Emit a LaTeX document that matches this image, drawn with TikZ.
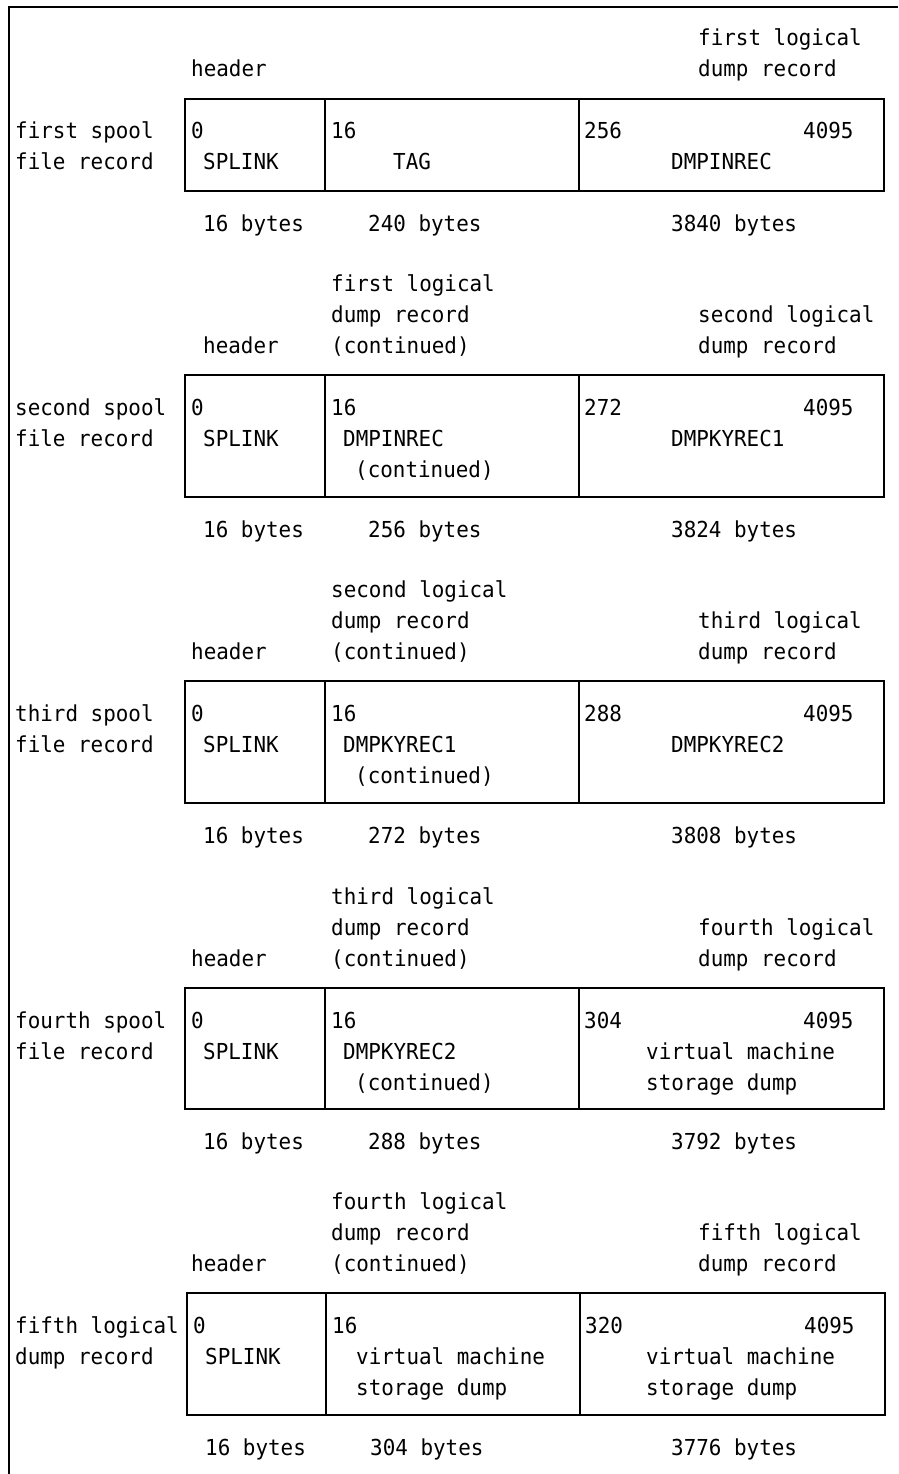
\documentclass[tikz,border=0pt]{standalone}
\usepackage{fontspec}
\newfontfamily\recfont[FakeStretch=0.95]{DejaVu Sans Mono}
\begin{document}
\begin{tikzpicture}[x=1pt,y=-1pt,
  txt/.style={anchor=base west, inner sep=0pt, xshift=-2pt,
    font=\recfont\fontsize{22}{26}\selectfont},
  cell/.style={draw, line width=1.6pt, rectangle, anchor=north west,
    inner sep=0pt, outer sep=0pt},
  frame/.style={line width=1.5pt}]
\useasboundingbox (0,0) rectangle (898,1474);
% outer frame: top and left rules only
\coordinate (fbl) at (9,1474);
\coordinate (ftl) at (9,7);
\coordinate (ftr) at (898,7);
\draw[frame] (fbl) -- (ftl) -- (ftr);

% ---------------- first spool file record ----------------
\node[cell, minimum width=140pt, minimum height=92pt] (r1a) at (185,99) {};
\node[cell, minimum width=254pt, minimum height=92pt] (r1b) at (325,99) {};
\node[cell, minimum width=305pt, minimum height=92pt] (r1c) at (579,99) {};
\node[txt] (r1h1) at (700,46) {first logical};
\node[txt] (r1h2) at (700,77) {dump record};
\node[txt] (r1hd) at (193,77) {header};
\node[txt] (r1l1) at (17,139) {first spool};
\node[txt] (r1l2) at (17,170) {file record};
\node[txt] (r1a1) at (193,139) {0};
\node[txt] (r1a2) at (205,170) {SPLINK};
\node[txt] (r1b1) at (333,139) {16};
\node[txt] (r1b2) at (395,170) {TAG};
\node[txt] (r1c1) at (586,139) {256};
\node[txt] (r1c2) at (805,139) {4095};
\node[txt] (r1c3) at (673,170) {DMPINREC};
\node[txt] (r1s1) at (205,231) {16 bytes};
\node[txt] (r1s2) at (370,231) {240 bytes};
\node[txt] (r1s3) at (673,231) {3840 bytes};

% ---------------- second spool file record ----------------
\node[cell, minimum width=140pt, minimum height=122pt] (r2a) at (185,375) {};
\node[cell, minimum width=254pt, minimum height=122pt] (r2b) at (325,375) {};
\node[cell, minimum width=305pt, minimum height=122pt] (r2c) at (579,375) {};
\node[txt] (r2m1) at (333,291) {first logical};
\node[txt] (r2m2) at (333,322) {dump record};
\node[txt] (r2m3) at (333,353) {(continued)};
\node[txt] (r2h1) at (700,322) {second logical};
\node[txt] (r2h2) at (700,353) {dump record};
\node[txt] (r2hd) at (205,353) {header};
\node[txt] (r2l1) at (17,415) {second spool};
\node[txt] (r2l2) at (17,446) {file record};
\node[txt] (r2a1) at (193,415) {0};
\node[txt] (r2a2) at (205,446) {SPLINK};
\node[txt] (r2b1) at (333,415) {16};
\node[txt] (r2b2) at (345,446) {DMPINREC};
\node[txt] (r2b3) at (357,477) {(continued)};
\node[txt] (r2c1) at (586,415) {272};
\node[txt] (r2c2) at (805,415) {4095};
\node[txt] (r2c3) at (673,446) {DMPKYREC1};
\node[txt] (r2s1) at (205,537) {16 bytes};
\node[txt] (r2s2) at (370,537) {256 bytes};
\node[txt] (r2s3) at (673,537) {3824 bytes};

% ---------------- third spool file record ----------------
\node[cell, minimum width=140pt, minimum height=122pt] (r3a) at (185,681) {};
\node[cell, minimum width=254pt, minimum height=122pt] (r3b) at (325,681) {};
\node[cell, minimum width=305pt, minimum height=122pt] (r3c) at (579,681) {};
\node[txt] (r3m1) at (333,597) {second logical};
\node[txt] (r3m2) at (333,628) {dump record};
\node[txt] (r3m3) at (333,659) {(continued)};
\node[txt] (r3h1) at (700,628) {third logical};
\node[txt] (r3h2) at (700,659) {dump record};
\node[txt] (r3hd) at (193,659) {header};
\node[txt] (r3l1) at (17,721) {third spool};
\node[txt] (r3l2) at (17,752) {file record};
\node[txt] (r3a1) at (193,721) {0};
\node[txt] (r3a2) at (205,752) {SPLINK};
\node[txt] (r3b1) at (333,721) {16};
\node[txt] (r3b2) at (345,752) {DMPKYREC1};
\node[txt] (r3b3) at (357,783) {(continued)};
\node[txt] (r3c1) at (586,721) {288};
\node[txt] (r3c2) at (805,721) {4095};
\node[txt] (r3c3) at (673,752) {DMPKYREC2};
\node[txt] (r3s1) at (205,843) {16 bytes};
\node[txt] (r3s2) at (370,843) {272 bytes};
\node[txt] (r3s3) at (673,843) {3808 bytes};

% ---------------- fourth spool file record ----------------
\node[cell, minimum width=140pt, minimum height=121pt] (r4a) at (185,988) {};
\node[cell, minimum width=254pt, minimum height=121pt] (r4b) at (325,988) {};
\node[cell, minimum width=305pt, minimum height=121pt] (r4c) at (579,988) {};
\node[txt] (r4m1) at (333,904) {third logical};
\node[txt] (r4m2) at (333,935) {dump record};
\node[txt] (r4m3) at (333,966) {(continued)};
\node[txt] (r4h1) at (700,935) {fourth logical};
\node[txt] (r4h2) at (700,966) {dump record};
\node[txt] (r4hd) at (193,966) {header};
\node[txt] (r4l1) at (17,1028) {fourth spool};
\node[txt] (r4l2) at (17,1059) {file record};
\node[txt] (r4a1) at (193,1028) {0};
\node[txt] (r4a2) at (205,1059) {SPLINK};
\node[txt] (r4b1) at (333,1028) {16};
\node[txt] (r4b2) at (345,1059) {DMPKYREC2};
\node[txt] (r4b3) at (357,1090) {(continued)};
\node[txt] (r4c1) at (586,1028) {304};
\node[txt] (r4c2) at (805,1028) {4095};
\node[txt] (r4c3) at (648,1059) {virtual machine};
\node[txt] (r4c4) at (648,1090) {storage dump};
\node[txt] (r4s1) at (205,1149) {16 bytes};
\node[txt] (r4s2) at (370,1149) {288 bytes};
\node[txt] (r4s3) at (673,1149) {3792 bytes};

% ---------------- fifth logical dump record ----------------
\node[cell, minimum width=139pt, minimum height=122pt] (r5a) at (187,1293) {};
\node[cell, minimum width=254pt, minimum height=122pt] (r5b) at (326,1293) {};
\node[cell, minimum width=305pt, minimum height=122pt] (r5c) at (580,1293) {};
\node[txt] (r5m1) at (333,1209) {fourth logical};
\node[txt] (r5m2) at (333,1240) {dump record};
\node[txt] (r5m3) at (333,1271) {(continued)};
\node[txt] (r5h1) at (700,1240) {fifth logical};
\node[txt] (r5h2) at (700,1271) {dump record};
\node[txt] (r5hd) at (193,1271) {header};
\node[txt] (r5l1) at (17,1333) {fifth logical};
\node[txt] (r5l2) at (17,1364) {dump record};
\node[txt] (r5a1) at (195,1333) {0};
\node[txt] (r5a2) at (207,1364) {SPLINK};
\node[txt] (r5b1) at (334,1333) {16};
\node[txt] (r5b2) at (358,1364) {virtual machine};
\node[txt] (r5b3) at (358,1395) {storage dump};
\node[txt] (r5c1) at (587,1333) {320};
\node[txt] (r5c2) at (806,1333) {4095};
\node[txt] (r5c3) at (648,1364) {virtual machine};
\node[txt] (r5c4) at (648,1395) {storage dump};
\node[txt] (r5s1) at (207,1455) {16 bytes};
\node[txt] (r5s2) at (372,1455) {304 bytes};
\node[txt] (r5s3) at (673,1455) {3776 bytes};
\end{tikzpicture}
\end{document}
